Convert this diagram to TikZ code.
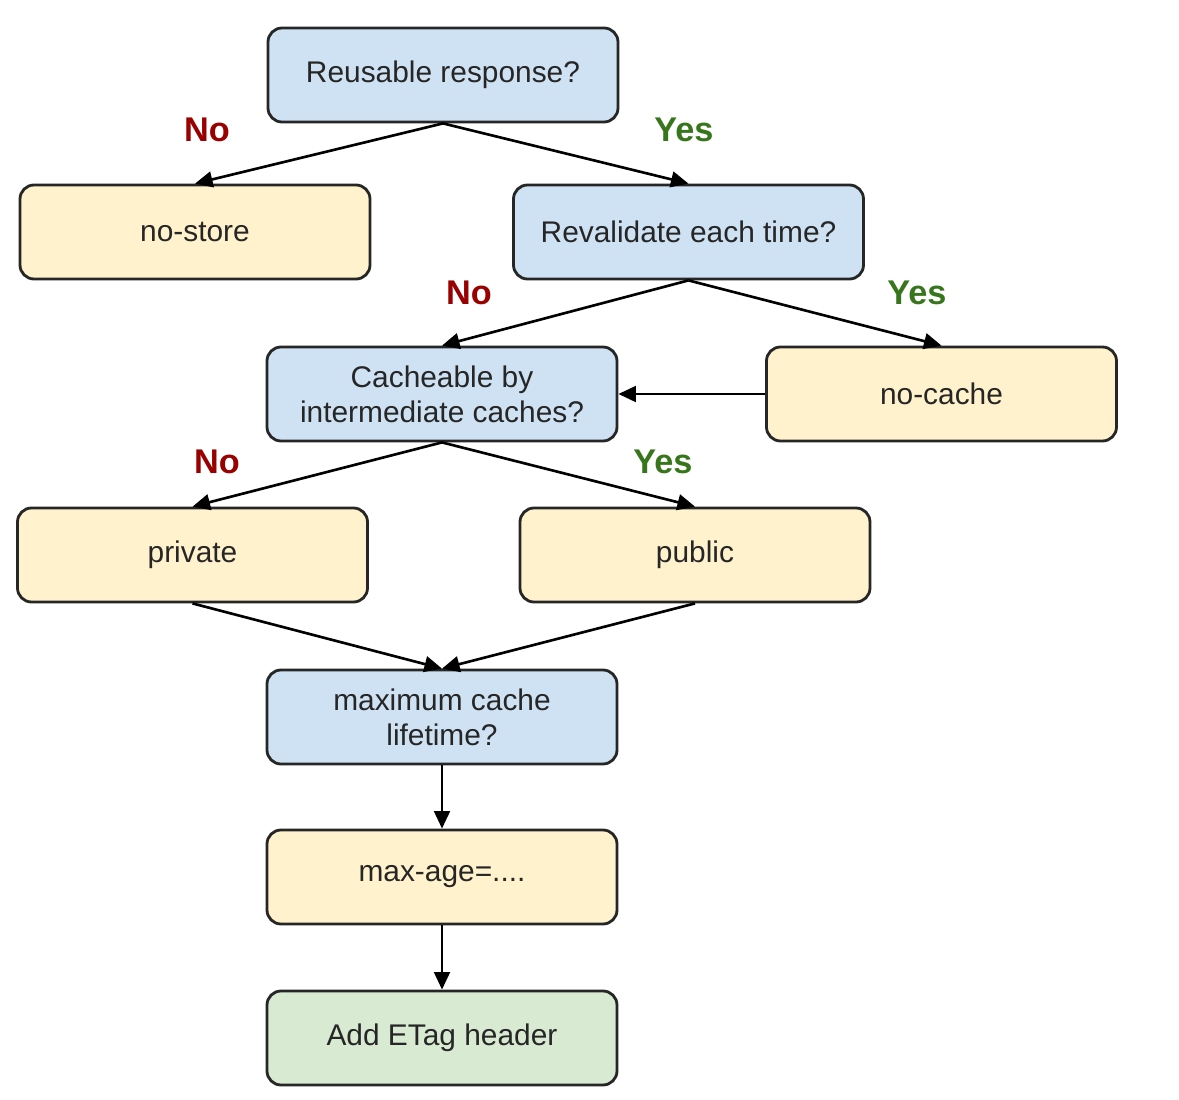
\documentclass[tikz,border=0pt]{standalone}
\usepackage{fontspec}
\setmainfont{Liberation Sans}
\usetikzlibrary{arrows.meta,positioning}
\definecolor{qblue}{HTML}{CFE2F3}
\definecolor{ansyellow}{HTML}{FFF2CC}
\definecolor{endgreen}{HTML}{D9EAD3}
\definecolor{nored}{HTML}{990000}
\definecolor{yesgreen}{HTML}{38761D}
\tikzset{
 box/.style = {rectangle, rounded corners=0.28cm, draw=black!85,
           line width=1.6pt, minimum width=7cm, minimum height=1.88cm,
           align=center, text=black!85,
           font=\fontsize{17}{20}\selectfont},
 question/.style = {box, fill=qblue},
 answer/.style = {box, fill=ansyellow},
 final/.style = {box, fill=endgreen},
 no/.style = {text=nored, font=\fontsize{19.5}{22}\selectfont\bfseries},
 yes/.style = {text=yesgreen, font=\fontsize{19.5}{22}\selectfont\bfseries},
 flow/.style = {-{Triangle[length=10pt,width=9pt]}, line width=1.5pt}
}

\begin{document}
\begin{tikzpicture}
  \useasboundingbox (0,0) rectangle (23.58,-22);
  % Level 0
  \node[question] (reuse) at (8.86,-1.50) {Reusable response?};

  % Level 1
  \node[answer] (nostore) at (3.90,-4.64) {no-store};
  \node[question] (revalidate) at (13.77,-4.64) {Revalidate each time?};

  % Level 2
  \node[question] (cacheable) at (8.84,-7.88)
  {Cacheable by\\intermediate caches?};
  \node[answer] (nocache) at (18.83,-7.88) {no-cache};

  % Level 3
  \node[answer] (private) at (3.85,-11.10) {private};
  \node[answer] (public) at (13.90,-11.10) {public};

  % Level 4
  \node[question] (lifetime) at (8.84,-14.34) {maximum cache\\lifetime?};
  \node[answer] (maxage) at (8.84,-17.54) {max-age=....};
  \node[final] (etag) at (8.84,-20.76) {Add ETag header};

  % Labels
  \node[no] (no1) at (4.14,-2.60) {No};
  \node[yes] (yes1) at (13.68,-2.60) {Yes};
  \node[no] (no2) at (9.38,-5.86) {No};
  \node[yes] (yes2) at (18.34,-5.86) {Yes};
  \node[no] (no3) at (4.34,-9.24) {No};
  \node[yes] (yes3) at (13.26,-9.24) {Yes};

  % Connectors
  \draw[flow] (reuse.south) -- (nostore.north);
  \draw[flow] (reuse.south) -- (revalidate.north);
  \draw[flow] (revalidate.south) -- (cacheable.north);
  \draw[flow] (revalidate.south) -- (nocache.north);
  \draw[flow] (nocache.west) -- (cacheable.east);
  \draw[flow] (cacheable.south) -- (private.north);
  \draw[flow] (cacheable.south) -- (public.north);
  \draw[flow] (private.south) -- (lifetime.north);
  \draw[flow] (public.south) -- (lifetime.north);
  \draw[flow] (lifetime.south) -- (maxage.north);
  \draw[flow] (maxage.south) -- (etag.north);
\end{tikzpicture}
\end{document}
